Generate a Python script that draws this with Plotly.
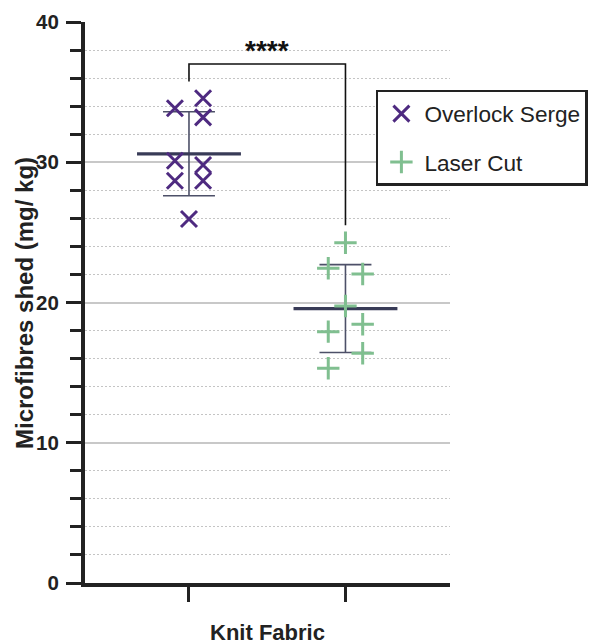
import numpy as np
import plotly.graph_objects as go

# ---- data ----
groups = ["Overlock Serge", "Laser Cut"]
overlock_vals = [33.85, 34.56, 33.2, 30.11, 29.8, 28.68, 28.68, 25.95]
laser_vals = [24.26, 22.44, 22.03, 19.75, 17.92, 18.45, 16.38, 15.31]
overlock_jitter = [-0.09, 0.09, 0.09, -0.09, 0.09, -0.09, 0.09, 0.0]
laser_jitter = [0.0, -0.11, 0.11, 0.0, -0.11, 0.11, 0.11, -0.11]
y_ticks = [0, 10, 20, 30, 40]
sig_label = "****"
x_title = "Knit Fabric"
y_title = "Microfibres shed (mg/ kg)"

FONT = "Arial, 'Liberation Sans', Helvetica, sans-serif"
PURPLE = "#4e2a80"
GREEN = "#80bf90"
NAVY = "#383b57"
AXIS = "#222222"

fig = go.Figure()

series = [
    (groups[0], overlock_vals, overlock_jitter, 0, "x-thin-open", PURPLE),
    (groups[1], laser_vals, laser_jitter, 1, "cross-thin-open", GREEN),
]

for name, vals, jit, xpos, sym, col in series:
    v = np.array(vals)
    m = v.mean()
    sd = v.std(ddof=1)
    fig.add_trace(go.Scatter(
        x=[xpos, xpos, None, xpos - 0.166, xpos + 0.166, None, xpos - 0.166, xpos + 0.166],
        y=[m - sd, m + sd, None, m + sd, m + sd, None, m - sd, m - sd],
        mode="lines", line=dict(color="#4d5068", width=1.6),
        showlegend=False, hoverinfo="skip"))
    fig.add_trace(go.Scatter(
        x=[xpos - 0.332, xpos + 0.332], y=[m, m],
        mode="lines", line=dict(color=NAVY, width=3.2),
        showlegend=False, hoverinfo="skip"))

for i, (name, vals, jit, xpos, sym, col) in enumerate(series):
    fig.add_trace(go.Scatter(
        x=[xpos + j for j in jit], y=vals, mode="markers", name=name,
        legendgroup=f"g{i}",
        marker=dict(symbol=sym, size=16, color=col, line=dict(color=col, width=3))))

# significance bracket
fig.add_trace(go.Scatter(
    x=[0, 0, 1, 1], y=[35.75, 37.0, 37.0, 25.5], mode="lines",
    line=dict(color="#111111", width=1.6), showlegend=False, hoverinfo="skip"))
fig.add_annotation(x=0.5, y=37.0, xref="x", yref="y", text=f"<b>{sig_label}</b>",
                   showarrow=False, yanchor="bottom", yshift=-4,
                   font=dict(family=FONT, size=28, color="#111111"))

# axis titles
fig.add_annotation(x=0.5, y=0, xref="paper", yref="paper", text=f"<b>{x_title}</b>",
                   showarrow=False, xanchor="center", yanchor="top", yshift=-35,
                   font=dict(family=FONT, size=22, color=AXIS))
fig.add_annotation(x=0, y=0.5, xref="paper", yref="paper", text=f"<b>{y_title}</b>",
                   showarrow=False, xanchor="right", yanchor="middle", xshift=-45,
                   textangle=-90, font=dict(family=FONT, size=24, color=AXIS))

fig.update_layout(
    width=590, height=642,
    margin=dict(l=85, r=140, t=22, b=59, autoexpand=False),
    paper_bgcolor="white", plot_bgcolor="white",
    font=dict(family=FONT, color=AXIS),
    legend=dict(
        x=0.797, y=0.879, xanchor="left", yanchor="top",
        bordercolor=AXIS, borderwidth=2.5, bgcolor="white",
        font=dict(family=FONT, size=22.6, color="#222222"),
        tracegroupgap=16, itemwidth=36,
    ),
    showlegend=True,
)

fig.update_xaxes(
    automargin=False,
    range=[-0.6645, 1.668], tickvals=[0, 1], ticktext=["", ""],
    showline=True, linecolor=AXIS, linewidth=4,
    ticks="outside", ticklen=15, tickwidth=3, tickcolor=AXIS,
    showgrid=False, zeroline=False,
)

fig.update_yaxes(
    automargin=False,
    range=[0, 40], tickvals=y_ticks, ticktext=[f"<b>{t}</b>" for t in y_ticks],
    showline=True, linecolor=AXIS, linewidth=4,
    ticks="outside", ticklen=15, tickwidth=3, tickcolor=AXIS,
    tickfont=dict(family=FONT, size=20.5, color=AXIS),
    ticklabelstandoff=3,
    showgrid=True, gridcolor="#c8c8c8", gridwidth=2,
    zeroline=False,
    minor=dict(dtick=2, ticks="outside", ticklen=11, tickwidth=3, tickcolor=AXIS,
               showgrid=True, gridcolor="#c4c4c4", gridwidth=1, griddash="2px,2px"),
)

fig.write_html(
    "out.html",
    config={"displayModeBar": False, "responsive": False},
    post_script=("document.documentElement.style.overflow='hidden';"
                 "document.body.style.overflow='hidden';"
                 "document.body.style.margin='0';document.body.style.padding='0';"),
)
